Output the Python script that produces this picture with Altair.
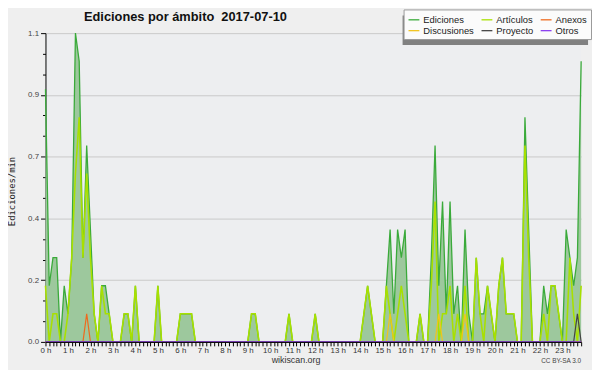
import altair as alt
import pandas as pd

# ---------------- data (10-minute steps, edits per minute) ----------------
minutes = list(range(0, 1440, 10))

ediciones = [
    0.9, 0.2, 0.3, 0.3, 0.0, 0.2, 0.1, 0.3, 1.1, 1.0, 0.3, 0.7,
    0.4, 0.1, 0.0, 0.2, 0.2, 0.1, 0.0, 0.0, 0.0, 0.1, 0.1, 0.0,
    0.2, 0.0, 0.0, 0.0, 0.0, 0.0, 0.2, 0.0, 0.0, 0.0, 0.0, 0.0,
    0.1, 0.1, 0.1, 0.1, 0.0, 0.0, 0.0, 0.0, 0.0, 0.0, 0.0, 0.0,
    0.0, 0.0, 0.0, 0.0, 0.0, 0.0, 0.0, 0.1, 0.1, 0.0, 0.0, 0.0,
    0.0, 0.0, 0.0, 0.0, 0.0, 0.1, 0.0, 0.0, 0.0, 0.0, 0.0, 0.0,
    0.1, 0.0, 0.0, 0.0, 0.0, 0.0, 0.0, 0.0, 0.0, 0.0, 0.0, 0.0,
    0.0, 0.1, 0.2, 0.1, 0.0, 0.0, 0.0, 0.2, 0.4, 0.1, 0.4, 0.3,
    0.4, 0.0, 0.0, 0.0, 0.1, 0.0, 0.0, 0.3, 0.7, 0.2, 0.5, 0.1,
    0.5, 0.1, 0.2, 0.0, 0.4, 0.1, 0.0, 0.3, 0.1, 0.1, 0.2, 0.1,
    0.0, 0.2, 0.3, 0.1, 0.1, 0.1, 0.0, 0.0, 0.8, 0.4, 0.0, 0.0,
    0.0, 0.2, 0.1, 0.2, 0.2, 0.1, 0.0, 0.4, 0.3, 0.2, 0.3, 1.0,
]

articulos = [
    0.2, 0.0, 0.1, 0.1, 0.0, 0.0, 0.1, 0.3, 0.6, 0.8, 0.3, 0.6,
    0.3, 0.1, 0.0, 0.2, 0.1, 0.1, 0.0, 0.0, 0.0, 0.1, 0.1, 0.0,
    0.2, 0.0, 0.0, 0.0, 0.0, 0.0, 0.2, 0.0, 0.0, 0.0, 0.0, 0.0,
    0.1, 0.1, 0.1, 0.1, 0.0, 0.0, 0.0, 0.0, 0.0, 0.0, 0.0, 0.0,
    0.0, 0.0, 0.0, 0.0, 0.0, 0.0, 0.0, 0.1, 0.1, 0.0, 0.0, 0.0,
    0.0, 0.0, 0.0, 0.0, 0.0, 0.1, 0.0, 0.0, 0.0, 0.0, 0.0, 0.0,
    0.1, 0.0, 0.0, 0.0, 0.0, 0.0, 0.0, 0.0, 0.0, 0.0, 0.0, 0.0,
    0.0, 0.1, 0.2, 0.1, 0.0, 0.0, 0.0, 0.2, 0.1, 0.0, 0.1, 0.2,
    0.1, 0.0, 0.0, 0.0, 0.1, 0.0, 0.0, 0.2, 0.5, 0.0, 0.1, 0.1,
    0.2, 0.0, 0.1, 0.0, 0.2, 0.0, 0.0, 0.3, 0.1, 0.0, 0.2, 0.1,
    0.0, 0.2, 0.3, 0.1, 0.1, 0.1, 0.0, 0.0, 0.7, 0.3, 0.0, 0.0,
    0.0, 0.1, 0.0, 0.2, 0.2, 0.1, 0.0, 0.0, 0.3, 0.1, 0.0, 0.2,
]

anexos = [
    0.0, 0.0, 0.0, 0.0, 0.0, 0.0, 0.0, 0.0, 0.0, 0.0, 0.0, 0.1,
    0.0, 0.0, 0.0, 0.0, 0.0, 0.0, 0.0, 0.0, 0.0, 0.0, 0.0, 0.0,
    0.0, 0.0, 0.0, 0.0, 0.0, 0.0, 0.0, 0.0, 0.0, 0.0, 0.0, 0.0,
    0.0, 0.0, 0.0, 0.0, 0.0, 0.0, 0.0, 0.0, 0.0, 0.0, 0.0, 0.0,
    0.0, 0.0, 0.0, 0.0, 0.0, 0.0, 0.0, 0.0, 0.0, 0.0, 0.0, 0.0,
    0.0, 0.0, 0.0, 0.0, 0.0, 0.0, 0.0, 0.0, 0.0, 0.0, 0.0, 0.0,
    0.0, 0.0, 0.0, 0.0, 0.0, 0.0, 0.0, 0.0, 0.0, 0.0, 0.0, 0.0,
    0.0, 0.0, 0.0, 0.0, 0.0, 0.0, 0.0, 0.0, 0.0, 0.0, 0.0, 0.0,
    0.0, 0.0, 0.0, 0.0, 0.0, 0.0, 0.0, 0.0, 0.0, 0.0, 0.0, 0.0,
    0.0, 0.0, 0.0, 0.0, 0.0, 0.0, 0.0, 0.0, 0.0, 0.0, 0.0, 0.0,
    0.0, 0.0, 0.0, 0.0, 0.0, 0.0, 0.0, 0.0, 0.0, 0.0, 0.0, 0.0,
    0.0, 0.0, 0.0, 0.0, 0.0, 0.0, 0.0, 0.0, 0.0, 0.0, 0.0, 0.0,
]

discusiones = [
    0.0, 0.0, 0.0, 0.0, 0.0, 0.0, 0.0, 0.0, 0.0, 0.0, 0.0, 0.0,
    0.0, 0.0, 0.0, 0.0, 0.0, 0.0, 0.0, 0.0, 0.0, 0.0, 0.0, 0.0,
    0.0, 0.0, 0.0, 0.0, 0.0, 0.0, 0.0, 0.0, 0.0, 0.0, 0.0, 0.0,
    0.0, 0.0, 0.0, 0.0, 0.0, 0.0, 0.0, 0.0, 0.0, 0.0, 0.0, 0.0,
    0.0, 0.0, 0.0, 0.0, 0.0, 0.0, 0.0, 0.0, 0.0, 0.0, 0.0, 0.0,
    0.0, 0.0, 0.0, 0.0, 0.0, 0.0, 0.0, 0.0, 0.0, 0.0, 0.0, 0.0,
    0.0, 0.0, 0.0, 0.0, 0.0, 0.0, 0.0, 0.0, 0.0, 0.0, 0.0, 0.0,
    0.0, 0.0, 0.0, 0.0, 0.0, 0.0, 0.0, 0.0, 0.1, 0.0, 0.0, 0.0,
    0.0, 0.0, 0.0, 0.0, 0.0, 0.0, 0.0, 0.0, 0.0, 0.1, 0.0, 0.0,
    0.0, 0.0, 0.0, 0.0, 0.1, 0.0, 0.0, 0.0, 0.0, 0.0, 0.0, 0.0,
    0.0, 0.0, 0.0, 0.0, 0.0, 0.0, 0.0, 0.0, 0.0, 0.0, 0.0, 0.0,
    0.0, 0.0, 0.0, 0.0, 0.0, 0.0, 0.0, 0.0, 0.0, 0.0, 0.0, 0.0,
]

proyecto = [
    0.0, 0.0, 0.0, 0.0, 0.0, 0.0, 0.0, 0.0, 0.0, 0.0, 0.0, 0.0,
    0.0, 0.0, 0.0, 0.0, 0.0, 0.0, 0.0, 0.0, 0.0, 0.0, 0.0, 0.0,
    0.0, 0.0, 0.0, 0.0, 0.0, 0.0, 0.0, 0.0, 0.0, 0.0, 0.0, 0.0,
    0.0, 0.0, 0.0, 0.0, 0.0, 0.0, 0.0, 0.0, 0.0, 0.0, 0.0, 0.0,
    0.0, 0.0, 0.0, 0.0, 0.0, 0.0, 0.0, 0.0, 0.0, 0.0, 0.0, 0.0,
    0.0, 0.0, 0.0, 0.0, 0.0, 0.0, 0.0, 0.0, 0.0, 0.0, 0.0, 0.0,
    0.0, 0.0, 0.0, 0.0, 0.0, 0.0, 0.0, 0.0, 0.0, 0.0, 0.0, 0.0,
    0.0, 0.0, 0.0, 0.0, 0.0, 0.0, 0.0, 0.0, 0.0, 0.0, 0.0, 0.0,
    0.0, 0.0, 0.0, 0.0, 0.0, 0.0, 0.0, 0.0, 0.0, 0.0, 0.0, 0.0,
    0.0, 0.0, 0.0, 0.0, 0.0, 0.0, 0.0, 0.0, 0.0, 0.0, 0.0, 0.0,
    0.0, 0.0, 0.0, 0.0, 0.0, 0.0, 0.0, 0.0, 0.0, 0.0, 0.0, 0.0,
    0.0, 0.0, 0.0, 0.0, 0.0, 0.0, 0.0, 0.0, 0.0, 0.0, 0.1, 0.0,
]

otros = [
    0.0, 0.0, 0.0, 0.0, 0.0, 0.0, 0.0, 0.0, 0.0, 0.0, 0.0, 0.0,
    0.0, 0.0, 0.0, 0.0, 0.0, 0.0, 0.0, 0.0, 0.0, 0.0, 0.0, 0.0,
    0.0, 0.0, 0.0, 0.0, 0.0, 0.0, 0.0, 0.0, 0.0, 0.0, 0.0, 0.0,
    0.0, 0.0, 0.0, 0.0, 0.0, 0.0, 0.0, 0.0, 0.0, 0.0, 0.0, 0.0,
    0.0, 0.0, 0.0, 0.0, 0.0, 0.0, 0.0, 0.0, 0.0, 0.0, 0.0, 0.0,
    0.0, 0.0, 0.0, 0.0, 0.0, 0.0, 0.0, 0.0, 0.0, 0.0, 0.0, 0.0,
    0.0, 0.0, 0.0, 0.0, 0.0, 0.0, 0.0, 0.0, 0.0, 0.0, 0.0, 0.0,
    0.0, 0.0, 0.0, 0.0, 0.0, 0.0, 0.0, 0.0, 0.0, 0.0, 0.0, 0.0,
    0.0, 0.0, 0.0, 0.0, 0.0, 0.0, 0.0, 0.0, 0.0, 0.0, 0.0, 0.0,
    0.0, 0.0, 0.0, 0.0, 0.0, 0.0, 0.0, 0.0, 0.0, 0.0, 0.0, 0.0,
    0.0, 0.0, 0.0, 0.0, 0.0, 0.0, 0.0, 0.0, 0.0, 0.0, 0.0, 0.0,
    0.0, 0.0, 0.0, 0.0, 0.0, 0.0, 0.0, 0.0, 0.0, 0.0, 0.0, 0.0,
]

series_names = ["Ediciones", "Artículos", "Anexos", "Discusiones", "Proyecto", "Otros"]
series_values = [ediciones, articulos, anexos, discusiones, proyecto, otros]
series_colors = ["#3aaa3a", "#a8e000", "#ee6a1e", "#f2c41c", "#444444", "#8a3df0"]
series_widths = [1.3, 1.6, 1.2, 1.2, 1.2, 1.2]

y_ticks = [0.0, 0.0733, 0.1467, 0.22, 0.2933, 0.3667, 0.44, 0.5133, 0.5867,
           0.66, 0.7333, 0.8067, 0.88, 0.9533, 1.0267, 1.1]

title_text = "Ediciones por ámbito \u00a02017-07-10"
y_title = "Ediciones/min"
footer_text = "wikiscan.org"
license_text = "CC BY-SA 3.0"

# ---------------- tables ----------------
rows = []
for name, vals in zip(series_names, series_values):
    for m, v in zip(minutes, vals):
        rows.append({"t": m, "v": v, "serie": name})
df = pd.DataFrame(rows)
df_ed = pd.DataFrame({"t": minutes, "v": ediciones})

major_test = "abs(datum.value*5/1.1 - round(datum.value*5/1.1)) < 0.01"

X = alt.X("t:Q",
          scale=alt.Scale(domain=[0, 1430], nice=False, zero=False),
          axis=alt.Axis(values=minutes, title=None, grid=False,
                        labelExpr="datum.value % 60 == 0 ? (datum.value / 60) + ' h' : ''",
                        labelOverlap=False, labelFlush=False, labelFont="Liberation Sans",
                        labelFontSize=8, labelColor="#333333", labelPadding=1,
                        tickSize=4, tickColor="#000000", domainColor="#000000",
                        zindex=1))
Y = alt.Y("v:Q",
          scale=alt.Scale(domain=[0, 1.1], nice=False),
          axis=alt.Axis(values=y_ticks, title=y_title,
                        labelExpr=major_test + " ? format(datum.value, '.1f') : ''",
                        labelOverlap=False, labelFont="Liberation Sans", labelFontSize=8,
                        labelColor="#444444", labelPadding=2,
                        tickSize={"condition": {"test": major_test, "value": 5}, "value": 3},
                        gridOpacity={"condition": {"test": major_test, "value": 1}, "value": 0},
                        gridColor="#c9c9c9", tickColor="#000000", domainColor="#000000",
                        titleFont="DejaVu Sans Mono", titleFontSize=9, titleFontWeight="normal",
                        titleColor="#222222", titleAngle=-90, titleX=-34, titleY=160,
                        titleAlign="center", titleBaseline="middle"))

color = alt.Color("serie:N",
                  scale=alt.Scale(domain=series_names, range=series_colors),
                  legend=alt.Legend(title=None, orient="none", legendX=363, legendY=-24,
                                    columns=3, direction="horizontal",
                                    symbolType="stroke", symbolSize=121, symbolStrokeWidth=1.3,
                                    labelFont="Liberation Sans", labelFontSize=9.5,
                                    labelColor="#222222", labelOffset=3,
                                    rowPadding=0, columnPadding=4, padding=4,
                                    fillColor="#fbfbfb", strokeColor="#999999"))

# legend drop shadow (decoration)
shadow = alt.Chart(pd.DataFrame({"s": [0]})).mark_rect(color="#808080").encode(
    x=alt.value(362), x2=alt.value(550), y=alt.value(-18), y2=alt.value(12)
)

area = alt.Chart(df_ed).mark_area(color="#9dc89d", opacity=1).encode(x=X, y=Y)

layers = [area]
for name, w in zip(series_names, series_widths):
    layers.append(
        alt.Chart(df).transform_filter(alt.datum.serie == name)
        .mark_line(strokeWidth=w)
        .encode(x=X, y=Y, color=color)
    )

title = alt.Chart(pd.DataFrame({"s": [title_text]})).mark_text(
    align="left", baseline="alphabetic", font="Liberation Sans", fontSize=13,
    fontWeight="bold", color="#111111"
).encode(text="s:N", x=alt.value(39), y=alt.value(-12.5))

footer = alt.Chart(pd.DataFrame({"s": [footer_text]})).mark_text(
    align="center", baseline="alphabetic", font="Liberation Sans", fontSize=9,
    color="#333333"
).encode(text="s:N", x=alt.value(254), y=alt.value(334))

lic = alt.Chart(pd.DataFrame({"s": [license_text]})).mark_text(
    align="right", baseline="alphabetic", font="Liberation Sans", fontSize=6.5,
    color="#444444"
).encode(text="s:N", x=alt.value(543), y=alt.value(334))

chart = alt.layer(*layers, shadow, title, footer, lic).properties(
    width=543, height=313,
    autosize=alt.AutoSizeParams(type="none"),
    padding={"left": 38, "top": 23, "right": 11, "bottom": 26},
).configure(background="#efefef").configure_view(fill="#edeef0", strokeWidth=0)

chart.save("out.html", embed_options={"renderer": "svg", "actions": False})
